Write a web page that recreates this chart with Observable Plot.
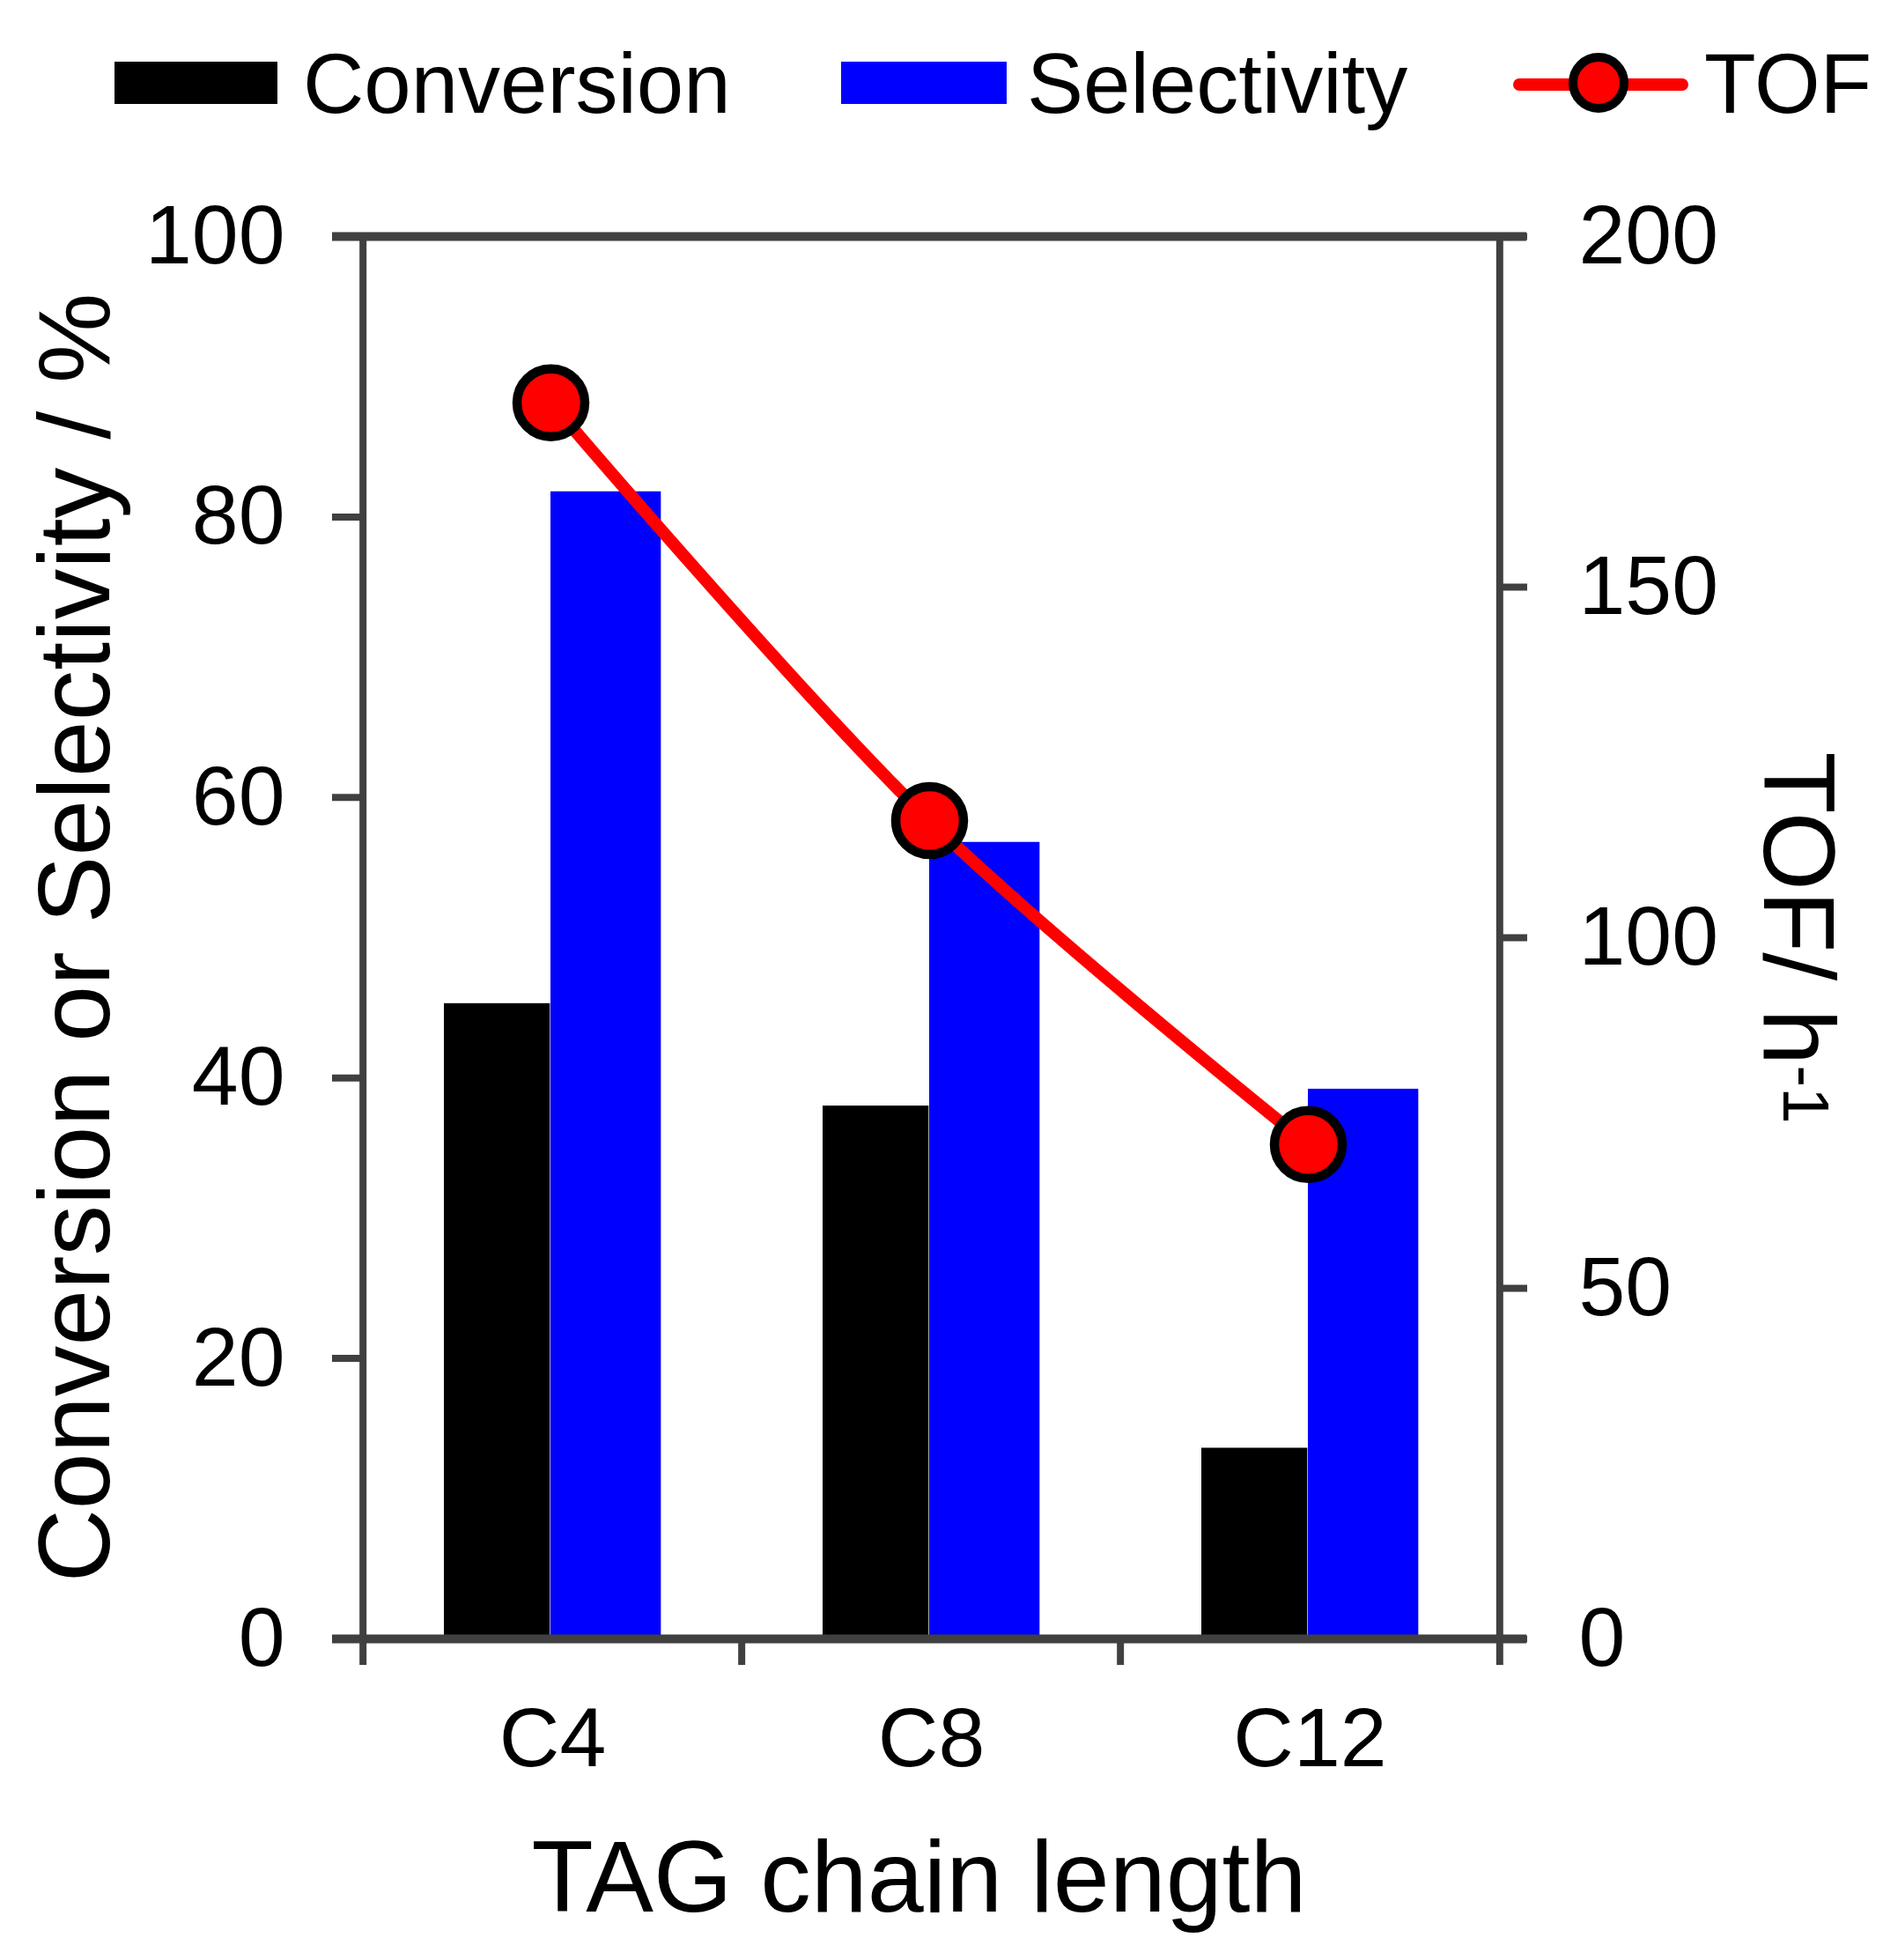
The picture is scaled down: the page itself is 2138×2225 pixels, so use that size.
<!DOCTYPE html>
<html>
<head>
<meta charset="utf-8">
<script src="https://cdn.jsdelivr.net/npm/d3@7"></script>
<script src="https://cdn.jsdelivr.net/npm/@observablehq/plot@0.6"></script>
<style>
  html, body { margin: 0; padding: 0; background: #fff; }
  #chart { width: 2138px; }
  #chart svg { display: block; }
</style>
</head>
<body>
<div id="chart"></div>
<script>
// ---- data ----
const categories = ["C4", "C8", "C12"];
const seriesNames = ["Conversion", "Selectivity", "TOF"];
const conversion = [45.3, 38.0, 13.6];
const selectivity = [81.8, 56.8, 39.2];
const tof = [176.3, 116.7, 70.5];
const leftTicks = [0, 20, 40, 60, 80, 100];
const rightTicks = [0, 50, 100, 150, 200];
const xTitle = "TAG chain length";
const yLeftTitle = "Conversion or Selectivity / %";
const yRightTitle = "TOF/ h";
const yRightSup = "-1";

const colors = { conv: "#000000", sel: "#0000ff", tof: "#ff0000", axis: "#404040", marker: "#000000" };
const FONT = "'Liberation Sans', Arial, Helvetica, sans-serif";

const chart = document.getElementById("chart");

// ---- legend (above the plot) ----
const legend = d3.create("svg")
  .attr("width", 2138).attr("height", 160)
  .attr("font-family", FONT);
legend.append("rect").attr("x", 130).attr("y", 70).attr("width", 185).attr("height", 48).attr("fill", colors.conv);
legend.append("text").attr("x", 344).attr("y", 128).attr("font-size", 96).attr("fill", "#000").text(seriesNames[0]);
legend.append("rect").attr("x", 955).attr("y", 70).attr("width", 188).attr("height", 48).attr("fill", colors.sel);
legend.append("text").attr("x", 1166).attr("y", 128).attr("font-size", 96).attr("fill", "#000").text(seriesNames[1]);
legend.append("line").attr("x1", 1725).attr("x2", 1910).attr("y1", 96).attr("y2", 96)
  .attr("stroke", colors.tof).attr("stroke-width", 14).attr("stroke-linecap", "round");
legend.append("circle").attr("cx", 1815).attr("cy", 94).attr("r", 29)
  .attr("fill", colors.tof).attr("stroke", colors.marker).attr("stroke-width", 10);
legend.append("text").attr("x", 1935).attr("y", 128).attr("font-size", 96).attr("fill", "#000").text(seriesNames[2]);
chart.appendChild(legend.node());

// ---- plot ----
const W = 2138, H = 2065, mL = 411, mR = 435, mT = 108, mB = 365;
const bw = (W - mL - mR) / categories.length;
const k = leftTicks[leftTicks.length - 1] / rightTicks[rightTicks.length - 1];
const rows = categories.map((c, i) => ({ cat: c, conv: conversion[i], sel: selectivity[i], tof: tof[i] }));

const plot = Plot.plot({
  width: W, height: H,
  marginLeft: mL, marginRight: mR, marginTop: mT, marginBottom: mB,
  style: { fontFamily: FONT, color: "#000", background: "#fff" },
  x: { domain: categories, paddingInner: 0, paddingOuter: 0, axis: null },
  y: { domain: [0, 100], axis: null },
  marks: [
    Plot.barY(rows, { x: "cat", y: "conv", fill: colors.conv, insetLeft: 92, insetRight: bw - 213 }),
    Plot.barY(rows, { x: "cat", y: "sel", fill: colors.sel, insetLeft: 213, insetRight: bw - 339 }),
    // frame
    Plot.ruleY([0, 100], { stroke: colors.axis, strokeWidth: 10, insetLeft: -34, insetRight: -30 }),
    Plot.ruleX([categories[0]], { dx: -bw / 2, stroke: colors.axis, strokeWidth: 8, insetBottom: -30 }),
    Plot.ruleX([categories[categories.length - 1]], { dx: bw / 2, stroke: colors.axis, strokeWidth: 8, insetBottom: -30 }),
    Plot.ruleX(categories.slice(1), { dx: -bw / 2, y1: 0, y2: 0, stroke: colors.axis, strokeWidth: 8, insetBottom: -30 }),
    // axes
    Plot.axisY({ ticks: leftTicks, tickFormat: d => String(d), tickSize: 34, tickPadding: 54,
      fontSize: 95, stroke: colors.axis, strokeWidth: 8, label: null }),
    Plot.axisY({ anchor: "right", ticks: rightTicks.map(t => t * k), tickFormat: d => String(Math.round(d / k)),
      tickSize: 30, tickPadding: 59, fontSize: 95, stroke: colors.axis, strokeWidth: 8, label: null }),
    Plot.axisX({ tickSize: 0, tickPadding: 77, fontSize: 95, label: null }),
    // TOF series
    Plot.line(rows, { x: "cat", y: d => d.tof * k, stroke: colors.tof, strokeWidth: 14, curve: "catmull-rom", dx: -2 }),
    Plot.dot(rows, { x: "cat", y: d => d.tof * k, r: 38.5, fill: colors.tof, stroke: colors.marker, strokeWidth: 10.5, dx: -2 }),
    // axis titles
    Plot.text([yLeftTitle], { text: d => d, frameAnchor: "left", textAnchor: "middle", rotate: -90, dx: -288, lineAnchor: "bottom", fontSize: 115, fill: "#000" }),
    Plot.text([yRightTitle + yRightSup], { text: d => d, frameAnchor: "right", textAnchor: "middle", rotate: 90, dx: 299, lineAnchor: "bottom", fontSize: 115, fill: "#000" }),
    Plot.text([xTitle], { text: d => d, frameAnchor: "bottom", textAnchor: "middle", dx: -14, dy: 309, lineAnchor: "bottom", fontSize: 115, fill: "#000" })
  ]
});

// superscript for the right title
plot.querySelectorAll("text").forEach(t => {
  if (t.textContent === yRightTitle + yRightSup) {
    t.textContent = "";
    const ns = "http://www.w3.org/2000/svg";
    const a = document.createElementNS(ns, "tspan");
    a.textContent = yRightTitle;
    const b = document.createElementNS(ns, "tspan");
    b.textContent = yRightSup;
    b.setAttribute("dy", "-0.3em");
    b.setAttribute("font-size", "65%");
    t.appendChild(a);
    t.appendChild(b);
  }
});

chart.appendChild(plot);
</script>
</body>
</html>
